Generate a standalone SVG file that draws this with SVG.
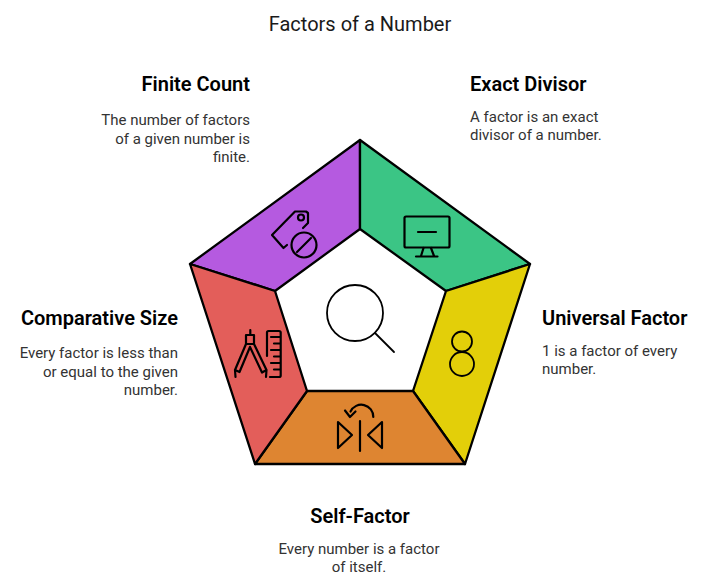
<svg xmlns="http://www.w3.org/2000/svg" width="709" height="588" viewBox="0 0 709 588">
<style>
text{font-family:Roboto,"Liberation Sans",sans-serif;fill:#1a1a1a}
.t{font-size:20px}
.h{font-size:20px;font-weight:600;fill:#000}
.b{font-size:15px;fill:#333}
.e{text-anchor:end}.m{text-anchor:middle}
.seg{stroke:#000;stroke-width:2.3;stroke-linejoin:round}
.i{fill:none;stroke:#000;stroke-width:2.2;stroke-linecap:round;stroke-linejoin:round}
.n{stroke-width:1.8}
</style>
<rect width="709" height="588" fill="#fff"/>
<text class="t m" x="360" y="31">Factors of a Number</text>
<g id="node-finite-count">
<path class="seg" fill="#b55ae0" d="M360 140V229L275 291L190 264Z"/>
<path class="i" d="M287 245L283.500 248L272 235L295 211.500H306L308 213V223L303 228"/>
<circle class="i" cx="301" cy="217.500" r="3"/>
<circle class="i" cx="304" cy="245" r="12.500"/>
<path class="i" d="M297 252L311 238"/>
<text class="h e" x="250" y="91">Finite Count</text>
<text class="b e" x="250" y="125">The number of factors</text>
<text class="b e" x="250" y="143.500">of a given number is</text>
<text class="b e" x="250" y="161.500">finite.</text>
</g>
<g id="node-exact-divisor">
<path class="seg" fill="#3bc585" d="M360 140V229L446 291L530 264Z"/>
<rect class="i" x="404.500" y="216.500" width="45" height="31" rx="1.500"/>
<path class="i" d="M418 232H436M423.500 248L421 256M431 248L434 256M416 256.500H437.500"/>
<text class="h" x="470" y="91">Exact Divisor</text>
<text class="b" x="470" y="122">A factor is an exact</text>
<text class="b" x="470" y="140">divisor of a number.</text>
</g>
<g id="node-universal-factor">
<path class="seg" fill="#e3cf09" d="M530 264L446 291L413 391L465 464Z"/>
<circle class="i n" cx="462" cy="341.500" r="10"/>
<circle class="i n" cx="462" cy="364" r="12"/>
<text class="h" x="542" y="325">Universal Factor</text>
<text class="b" x="542" y="356">1 is a factor of every</text>
<text class="b" x="542" y="374">number.</text>
</g>
<g id="node-self-factor">
<path class="seg" fill="#de8531" d="M307 391H413L465 464H255Z"/>
<path class="i" d="M338 422L352 435L338 448ZM382 422L368 435L382 448ZM360 421V451"/>
<path class="i" d="M373.300 417A12 12 0 0 0 350.500 411.500M345 410.500L350 417L355.500 411.500"/>
<text class="h m" x="360" y="523">Self-Factor</text>
<text class="b m" x="359" y="554">Every number is a factor</text>
<text class="b m" x="359" y="572">of itself.</text>
</g>
<g id="node-comparative-size">
<path class="seg" fill="#e35e5a" d="M190 264L275 291L307 391L255 464Z"/>
<path class="i" d="M250.300 330V335M246 335H254V344H246ZM246 344L235 370L239.500 372L250 347M254 344L266.500 370L262 372.500L250 347M235 370L235.500 377M266.500 370L266 377"/>
<path class="i" d="M267 356V332.500Q267 331 268.500 331H279Q280.700 331 280.700 332.500V375.500Q280.700 377 279 377H270M271 337H280M274 343.500H280M271 350H280M274 356.500H280M271 363H280M274 369.500H280"/>
<text class="h e" x="178" y="325">Comparative Size</text>
<text class="b e" x="178" y="358">Every factor is less than</text>
<text class="b e" x="178" y="376.500">or equal to the given</text>
<text class="b e" x="178" y="395">number.</text>
</g>
<g id="node-center">
<circle class="i n" cx="355" cy="313" r="28"/>
<path class="i n" d="M375 333L394 352"/>
</g>
<g id="connectors"></g>
</svg>
